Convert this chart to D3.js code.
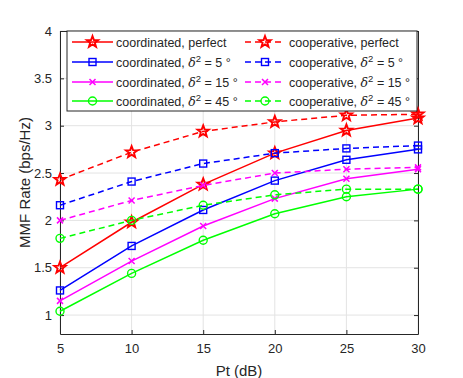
<!DOCTYPE html>
<html><head><meta charset="utf-8">
<script src="https://cdn.jsdelivr.net/npm/d3@7"></script>
<style>body{margin:0;background:#fff}svg{display:block;font-family:"Liberation Sans",Arial,sans-serif}</style>
</head><body><svg id="c" width="463" height="378"></svg>
<script>
const pt = [5, 10, 15, 20, 25, 30];
const xTicks = [5, 10, 15, 20, 25, 30];
const yTicks = [1, 1.5, 2, 2.5, 3, 3.5, 4];
const yTickLabels = ["1", "1.5", "2", "2.5", "3", "3.5", "4"];
const coordPerfect = [1.50, 1.98, 2.38, 2.71, 2.95, 3.08];
const coord5 = [1.26, 1.73, 2.11, 2.42, 2.64, 2.75];
const coord15 = [1.15, 1.57, 1.94, 2.23, 2.44, 2.54];
const coord45 = [1.04, 1.44, 1.79, 2.07, 2.25, 2.33];
const coopPerfect = [2.43, 2.72, 2.94, 3.04, 3.11, 3.12];
const coop5 = [2.16, 2.41, 2.60, 2.71, 2.76, 2.79];
const coop15 = [2.00, 2.21, 2.37, 2.50, 2.54, 2.56];
const coop45 = [1.81, 2.00, 2.16, 2.27, 2.33, 2.33];

const series = [
  {v: coordPerfect, c: "#ff0000", m: "star", d: false, lab: ["coordinated, ", "perfect"]},
  {v: coord5, c: "#0000ff", m: "square", d: false, lab: ["coordinated, ", "5"]},
  {v: coord15, c: "#ff00ff", m: "x", d: false, lab: ["coordinated, ", "15"]},
  {v: coord45, c: "#00ff00", m: "circle", d: false, lab: ["coordinated, ", "45"]},
  {v: coopPerfect, c: "#ff0000", m: "star", d: true, lab: ["cooperative, ", "perfect"]},
  {v: coop5, c: "#0000ff", m: "square", d: true, lab: ["cooperative, ", "5"]},
  {v: coop15, c: "#ff00ff", m: "x", d: true, lab: ["cooperative, ", "15"]},
  {v: coop45, c: "#00ff00", m: "circle", d: true, lab: ["cooperative, ", "45"]},
];

const L = 60, R = 418, T = 31, B = 334;
const x = d3.scaleLinear().domain([5, 30]).range([L, R]);
const y = d3.scaleLinear().domain([0.8, 4]).range([B, T]);
const svg = d3.select("#c");
const axc = "#262626";
const FF = "'Liberation Sans', Arial, sans-serif";

// grid
svg.append("g").selectAll("line").data(xTicks).join("line")
  .attr("x1", d => x(d)).attr("x2", d => x(d)).attr("y1", T).attr("y2", B)
  .attr("stroke", "#e3e3e3").attr("stroke-width", 1);
svg.append("g").selectAll("line").data(yTicks).join("line")
  .attr("x1", L).attr("x2", R).attr("y1", d => y(d)).attr("y2", d => y(d))
  .attr("stroke", "#e3e3e3").attr("stroke-width", 1);

// axes
const xa = svg.append("g").attr("transform", `translate(0,${B})`)
  .call(d3.axisBottom(x).tickValues(xTicks).tickSizeInner(-4).tickSizeOuter(0).tickPadding(10));
const xa2 = svg.append("g").attr("transform", `translate(0,${T})`)
  .call(d3.axisTop(x).tickValues(xTicks).tickSizeInner(-4).tickSizeOuter(0).tickFormat(""));
const ya = svg.append("g").attr("transform", `translate(${L},0)`)
  .call(d3.axisLeft(y).tickValues(yTicks).tickFormat((d, i) => yTickLabels[i]).tickSizeInner(-4).tickSizeOuter(0).tickPadding(8));
const ya2 = svg.append("g").attr("transform", `translate(${R},0)`)
  .call(d3.axisRight(y).tickValues(yTicks).tickSizeInner(-4).tickSizeOuter(0).tickFormat(""));
[xa, xa2, ya, ya2].forEach(a => {
  a.select(".domain").attr("stroke", axc);
  a.selectAll(".tick line").attr("stroke", axc);
  a.selectAll("text").attr("fill", axc).style("font-size", "13px").style("font-family", FF);
});

// markers
function marker(g, type, cx, cy, col) {
  if (type === "star") {
    const pts = [];
    for (let k = 0; k < 10; k++) {
      const r = k % 2 === 0 ? 6 : 2.5;
      const a = -Math.PI / 2 + k * Math.PI / 5;
      pts.push([cx + r * Math.cos(a), cy + r * Math.sin(a)]);
    }
    g.append("polygon").attr("points", pts.map(p => p.join(",")).join(" "))
      .attr("fill", "none").attr("stroke", col).attr("stroke-width", 1.9).attr("stroke-linejoin", "miter");
  } else if (type === "square") {
    g.append("rect").attr("x", cx - 3.5).attr("y", cy - 3.5).attr("width", 7).attr("height", 7)
      .attr("fill", "none").attr("stroke", col).attr("stroke-width", 1.4);
  } else if (type === "x") {
    g.append("path").attr("d", `M${cx-3},${cy-3}L${cx+3},${cy+3}M${cx-3},${cy+3}L${cx+3},${cy-3}`)
      .attr("stroke", col).attr("stroke-width", 1.5);
  } else {
    g.append("circle").attr("cx", cx).attr("cy", cy).attr("r", 4)
      .attr("fill", "none").attr("stroke", col).attr("stroke-width", 1.4);
  }
}

const line = d3.line().x((d, i) => x(pt[i])).y(d => y(d));
const plot = svg.append("g");
series.forEach(s => {
  plot.append("path").attr("d", line(s.v)).attr("fill", "none").attr("stroke", s.c)
    .attr("stroke-width", 1.5).attr("stroke-dasharray", s.d ? "6,4" : null);
  const g = plot.append("g");
  s.v.forEach((v, i) => marker(g, s.m, x(pt[i]), y(v), s.c));
});

// legend
const lg = svg.append("g");
lg.append("rect").attr("x", 67).attr("y", 31).attr("width", 350).attr("height", 80)
  .attr("fill", "#fff").attr("stroke", axc).attr("stroke-width", 1);
const rowY = [42, 62, 82, 101];
const cols = [{x1: 72, x2: 113, tx: 116}, {x1: 245, x2: 285, tx: 289}];
series.forEach((s, k) => {
  const c = cols[Math.floor(k / 4)], ry = rowY[k % 4];
  lg.append("line").attr("x1", c.x1).attr("x2", c.x2).attr("y1", ry).attr("y2", ry)
    .attr("stroke", s.c).attr("stroke-width", 1.5).attr("stroke-dasharray", s.d ? "6,4" : null);
  marker(lg, s.m, (c.x1 + c.x2) / 2, ry, s.c);
  const t = lg.append("text").attr("x", c.tx).attr("y", ry + 4.5).attr("fill", axc)
    .style("font-size", "12.5px").style("font-family", FF);
  t.append("tspan").text(s.lab[0]);
  if (s.lab[1] === "perfect") t.append("tspan").text("perfect");
  else {
    t.append("tspan").text("δ").style("font-style", "italic").style("font-family", "'DejaVu Serif', serif");
    t.append("tspan").text("2").attr("dy", -5).style("font-size", "9.5px");
    t.append("tspan").text(" = " + s.lab[1] + " °").attr("dy", 5);
  }
});

// axis labels
svg.append("text").attr("x", (L + R) / 2).attr("y", 376).attr("text-anchor", "middle")
  .attr("fill", axc).style("font-size", "15px").style("font-family", FF).text("Pt (dB)");
svg.append("text").attr("transform", `translate(30,${(T + B) / 2}) rotate(-90)`).attr("text-anchor", "middle")
  .attr("fill", axc).style("font-size", "15px").style("font-family", FF).text("MMF Rate (bps/Hz)");
</script></body></html>
